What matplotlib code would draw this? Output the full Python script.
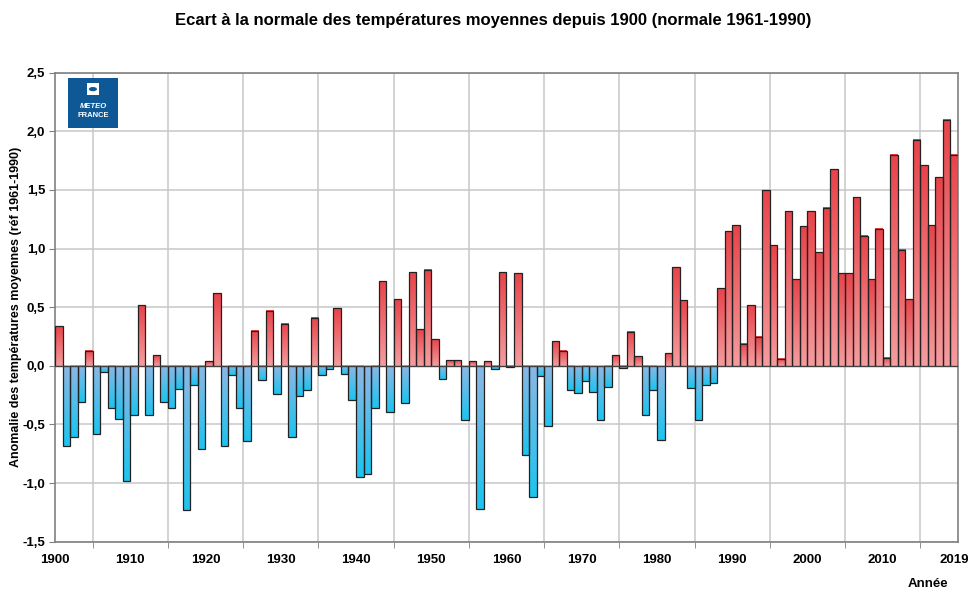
import numpy as np
import matplotlib
matplotlib.use("Agg")
import matplotlib.pyplot as plt
from matplotlib.colors import LinearSegmentedColormap
from matplotlib.patches import Rectangle, Circle

plt.rcParams['font.family'] = ['Liberation Sans Narrow', 'Liberation Sans', 'DejaVu Sans']

# Annual mean temperature anomaly, France (ref 1961-1990)
years = np.arange(1900, 2020)
anomaly = [
    0.34, -0.68, -0.61, -0.31, 0.13, -0.58, -0.05, -0.36, -0.45, -0.98,   # 1900s
    -0.42, 0.52, -0.42, 0.09, -0.31, -0.36, -0.20, -1.23, -0.16, -0.71,   # 1910s
    0.04, 0.62, -0.68, -0.08, -0.36, -0.64, 0.30, -0.12, 0.47, -0.24,     # 1920s
    0.36, -0.61, -0.26, -0.21, 0.41, -0.08, -0.03, 0.49, -0.07, -0.29,    # 1930s
    -0.95, -0.92, -0.36, 0.72, -0.39, 0.57, -0.32, 0.80, 0.31, 0.82,      # 1940s
    0.23, -0.11, 0.05, 0.05, -0.46, 0.04, -1.22, 0.04, -0.03, 0.80,       # 1950s
    -0.01, 0.79, -0.76, -1.12, -0.09, -0.51, 0.21, 0.13, -0.21, -0.23,    # 1960s
    -0.13, -0.22, -0.46, -0.18, 0.09, -0.02, 0.29, 0.08, -0.42, -0.21,    # 1970s
    -0.63, 0.11, 0.84, 0.56, -0.19, -0.46, -0.16, -0.15, 0.66, 1.15,      # 1980s
    1.20, 0.19, 0.52, 0.25, 1.50, 1.03, 0.06, 1.32, 0.74, 1.19,           # 1990s
    1.32, 0.97, 1.35, 1.68, 0.79, 0.79, 1.44, 1.11, 0.74, 1.17,           # 2000s
    0.07, 1.80, 0.99, 0.57, 1.93, 1.71, 1.20, 1.61, 2.10, 1.80,           # 2010s
]
yticks = [-1.5, -1.0, -0.5, 0.0, 0.5, 1.0, 1.5, 2.0, 2.5]
ytick_labels = ["-1,5", "-1,0", "-0,5", "0,0", "0,5", "1,0", "1,5", "2,0", "2,5"]
xlabel_years = list(range(1900, 2011, 10))

red_cmap = LinearSegmentedColormap.from_list("r", ["#f59c9e", "#e8444a"])
blue_cmap = LinearSegmentedColormap.from_list("b", ["#1cc4f0", "#8db7e4"])
grad = np.linspace(0, 1, 64).reshape(-1, 1)

fig = plt.figure(figsize=(9.7, 5.95), dpi=100)
ax = fig.add_axes([0.0567, 0.0896, 0.9309, 0.7882])

bars = ax.bar(years, anomaly, width=1.0, align='edge', fill=False,
              edgecolor='#222222', linewidth=0.9, zorder=3)

# gradient fill per bar, like the Excel original
for b, v in zip(bars, anomaly):
    x0 = b.get_x()
    x1 = x0 + b.get_width()
    if v >= 0:
        ax.imshow(grad, extent=[x0, x1, 0, v], origin='lower', aspect='auto',
                  cmap=red_cmap, interpolation='bilinear', zorder=2)
    else:
        ax.imshow(grad, extent=[x0, x1, v, 0], origin='lower', aspect='auto',
                  cmap=blue_cmap, interpolation='bilinear', zorder=2)

ax.set_xlim(1900, 2020)
ax.set_ylim(-1.5, 2.5)

ax.set_yticks(yticks)
ax.set_yticklabels(ytick_labels)
ax.set_xticks(xlabel_years + [2019.5])
ax.set_xticklabels([str(y) for y in xlabel_years] + ["2019"])
ax.set_xticks(range(1905, 2020, 5), minor=True)

ax.tick_params(axis='x', which='major', length=0, pad=9, labelsize=9.5)
ax.tick_params(axis='x', which='minor', length=4, color='#808080')
ax.tick_params(axis='y', length=4, color='#808080', labelsize=9.5, pad=3)
for lab in ax.get_xticklabels() + ax.get_yticklabels():
    lab.set_fontweight('bold')

ax.grid(False)
ax.grid(True, which='minor', axis='x', color='#c8c8c8', linewidth=1.1, zorder=0)
ax.grid(True, which='major', axis='y', color='#c8c8c8', linewidth=1.1, zorder=0)
ax.set_axisbelow(True)
for s in ax.spines.values():
    s.set_color('#808080')
    s.set_linewidth(1.2)

ax.axhline(0, color='#404040', linewidth=0.8, zorder=4)

ax.set_ylabel("Anomalie des températures moyennes (réf 1961-1990)",
              fontsize=9, fontweight='bold')
ax.yaxis.set_label_coords(-0.037, 0.5)
fig.text(0.978, 0.008, "Année", ha='right', va='bottom', fontsize=9.5, fontweight='bold')
fig.text(0.508, 0.966, "Ecart à la normale des températures moyennes depuis 1900 (normale 1961-1990)",
         ha='center', va='center', fontsize=12, fontweight='bold')

# Meteo-France logo
ax.add_patch(Rectangle((0.014, 0.882), 0.056, 0.107, transform=ax.transAxes,
                       facecolor='#0e5896', edgecolor='none', zorder=5))
ax.add_patch(Rectangle((0.0355, 0.953), 0.013, 0.024, transform=ax.transAxes,
                       facecolor='white', edgecolor='none', zorder=6))
ax.add_patch(Circle((0.042, 0.965), 0.0045, transform=ax.transAxes,
                    facecolor='#0e5896', edgecolor='none', zorder=7))
ax.text(0.042, 0.929, "METEO", transform=ax.transAxes, ha='center', va='center',
        color='white', fontsize=5.5, fontweight='bold', style='italic', zorder=6)
ax.text(0.042, 0.908, "FRANCE", transform=ax.transAxes, ha='center', va='center',
        color='white', fontsize=5.5, fontweight='bold', zorder=6)

fig.savefig("out.png", dpi=100)
